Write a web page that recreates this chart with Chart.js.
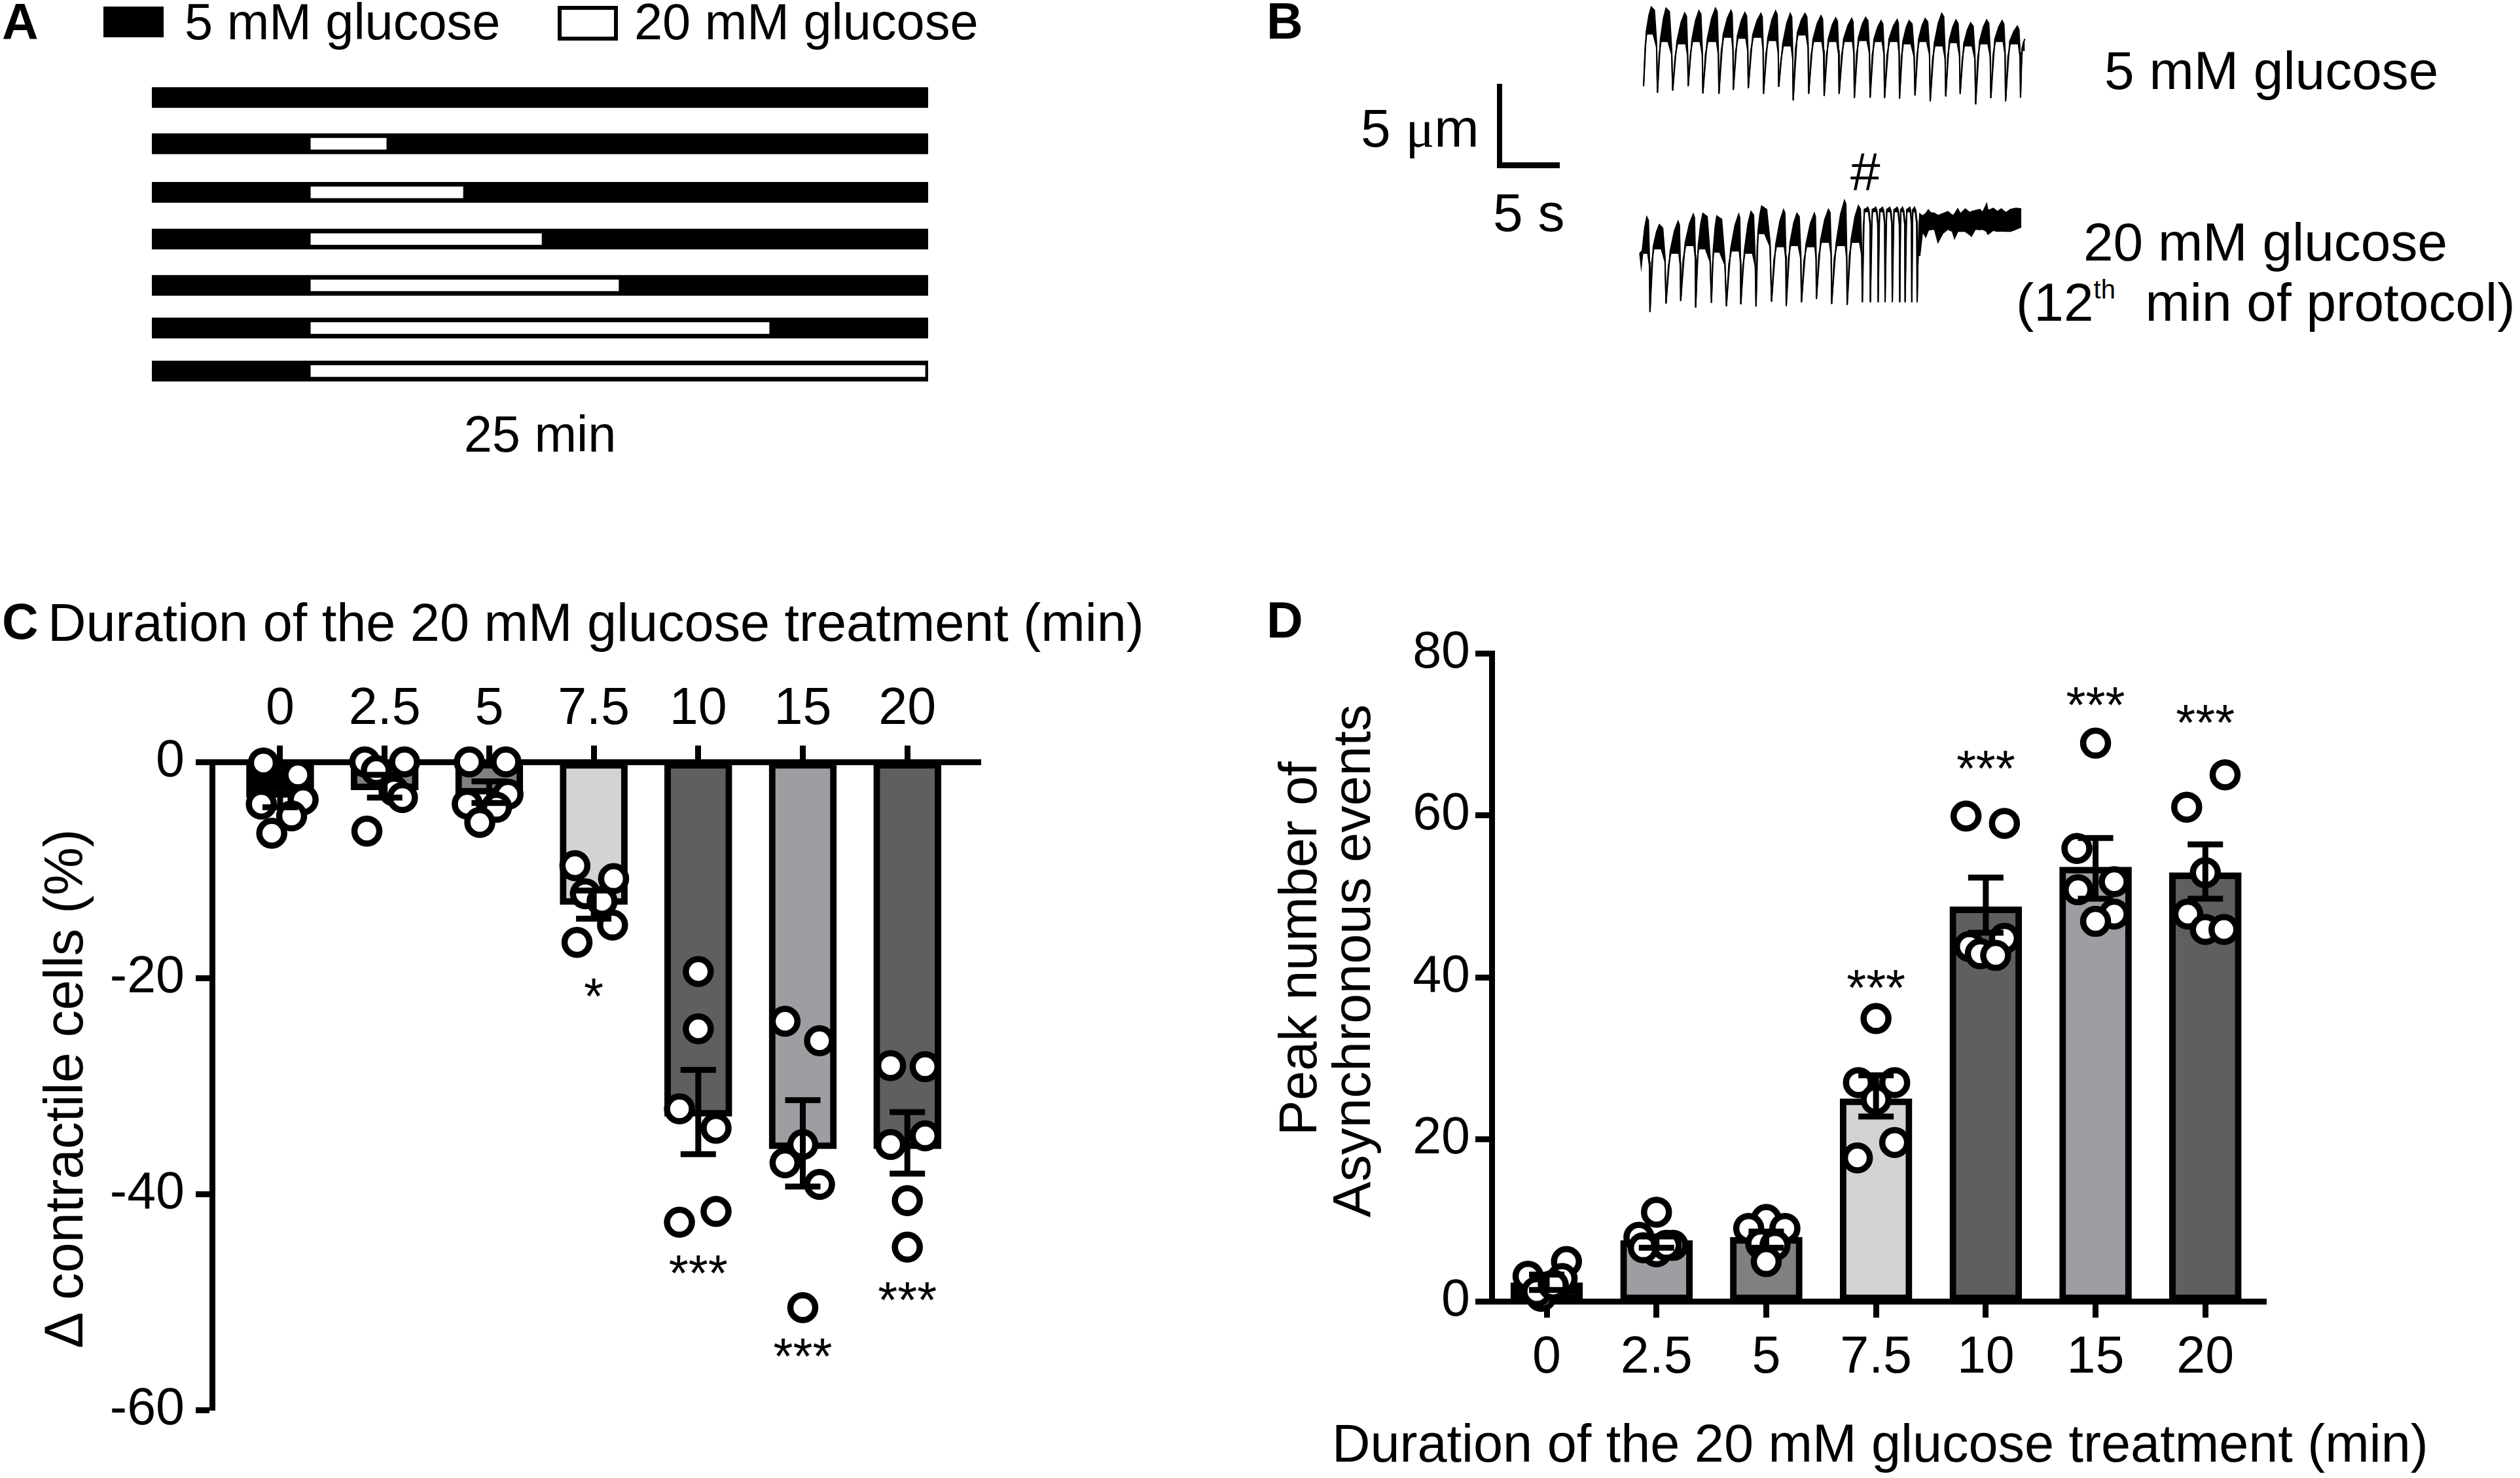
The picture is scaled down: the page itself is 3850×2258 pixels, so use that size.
<!DOCTYPE html>
<html>
<head>
<meta charset="utf-8">
<script src="https://cdn.jsdelivr.net/npm/chart.js@4"></script>
<style>
  html, body { margin: 0; background: #fff; overflow: hidden; }
  #page { position: relative; width: 3850px; height: 2258px; background: #fff; }
  canvas { position: absolute; }
  .t { position: absolute; font: 77.5px/1 "Liberation Sans", Arial, sans-serif; color: #000; white-space: pre; }
  .big { font-size: 82px; }
  .wide { font-size: 81px; }
  .letter { font-weight: bold; font-size: 77px; }
  .up { transform-origin: 0 0; transform: rotate(-90deg); font-size: 83px; }
  .t sup { font-size: 40px; line-height: 0; vertical-align: 34px; }
  .box { position: absolute; box-sizing: border-box; }
</style>
</head>
<body>
<div id="page">
  <div class="t letter" style="left:3px;top:-5px">A</div>
  <div class="box" style="left:158px;top:10px;width:92px;height:47px;background:#000"></div>
  <div class="t" style="left:282px;top:-5px">5 mM glucose</div>
  <div class="box" style="left:852px;top:9px;width:92px;height:53px;border:6px solid #000;background:#fff"></div>
  <div class="t" style="left:969px;top:-5px">20 mM glucose</div>

  <div class="t letter" style="left:1935px;top:-6px">B</div>
  <div class="t big" style="left:2079px;top:155px">5 <span style="font-family:'Liberation Serif'">μ</span>m</div>
  <div class="box" style="left:2287px;top:128px;width:96px;height:129px;border-left:8px solid #000;border-bottom:9px solid #000"></div>
  <div class="t big" style="left:2281px;top:284px">5 s</div>
  <div class="t big" style="left:2827px;top:221px">#</div>
  <div class="t big" style="left:3215px;top:67px">5 mM glucose</div>
  <div class="t big" style="left:3183px;top:329px">20 mM glucose</div>
  <div class="t big" style="left:3080px;top:421px">(12<sup>th</sup>  min of protocol)</div>

  <div class="t letter" style="left:3px;top:911px">C</div>
  <div class="t wide" style="left:73px;top:911px">Duration of the 20 mM glucose treatment (min)</div>
  <div class="t up" style="left:56px;top:2060px">Δ contractile cells (%)</div>

  <div class="t letter" style="left:1935px;top:909px">D</div>
  <div class="t up" style="left:1943px;top:1735px;font-size:81px">Peak number of</div>
  <div class="t up" style="left:2024px;top:1860px;font-size:82px">Asynchronous events</div>
  <div class="t wide" style="left:2035px;top:2165px">Duration of the 20 mM glucose treatment (min)</div>

  <canvas id="protocol_ctx" width="1186" height="615" style="left:232px;top:100px"></canvas>
  <canvas id="trace_5mm_ctx" width="640" height="170" style="left:2480px;top:0"></canvas>
  <canvas id="trace_20mm_ctx" width="640" height="200" style="left:2480px;top:290px"></canvas>
  <canvas id="contractile_ctx" width="1750" height="1319" style="left:50px;top:900px"></canvas>
  <canvas id="async_ctx" width="1870" height="1318" style="left:1930px;top:940px"></canvas>
</div>

<script>
// panel A, protocol rows (minutes)
const protocolLane = [0, 1.01, 2.07, 3.09, 4.1, 5.03, 5.97];
const protocolEnd = [null, 7.55, 10.02, 12.55, 15.03, 19.88, 24.9];
const protocolStart = 5.12;

// panel B, contraction traces (crop units, y grows downward)
const trough5X = [76, 128, 185, 243, 298, 358, 412, 468, 525, 582, 636, 694, 752, 808, 865, 924, 978, 1034, 1092, 1149, 1207, 1261, 1319, 1376, 1431, 1487];
const trough5Y = [395, 425, 415, 395, 428, 430, 412, 405, 430, 398, 460, 430, 440, 430, 450, 448, 450, 452, 438, 465, 442, 430, 478, 450, 465, 448];
const top5X = [105, 160, 230, 283, 345, 403, 455, 515, 570, 625, 680, 740, 795, 855, 907, 965, 1025, 1070, 1130, 1192, 1245, 1300, 1360, 1418, 1475, 1503];
const top5Y = [32, 38, 60, 50, 38, 48, 58, 62, 50, 62, 62, 72, 82, 85, 80, 95, 90, 95, 85, 62, 92, 105, 92, 95, 120, 178];
const low5Y = [155, 190, 200, 190, 190, 170, 175, 170, 185, 210, 160, 190, 190, 190, 185, 190, 190, 200, 190, 210, 195, 210, 200, 190, 200, 230];

const trough20X = [62, 100, 160, 215, 271, 330, 386, 440, 497, 555, 610, 667, 723, 780, 838, 895, 925, 954, 980, 1007, 1035, 1055, 1080, 1100];
const trough20Y = [290, 560, 522, 510, 540, 518, 533, 525, 535, 513, 533, 516, 500, 523, 528, 515, 515, 515, 515, 515, 515, 515, 515, 515];
const top20X = [88, 135, 205, 262, 298, 350, 432, 478, 518, 600, 650, 715, 768, 828, 880, 915, 945, 970, 997, 1025, 1045, 1072, 1090, 1110];
const top20Y = [125, 160, 145, 112, 108, 120, 112, 100, 75, 92, 108, 108, 90, 50, 73, 80, 80, 80, 80, 80, 80, 80, 80, 110];
const low20Y = [290, 270, 290, 255, 270, 285, 280, 290, 200, 260, 255, 260, 240, 255, 240, 100, 100, 100, 100, 100, 100, 100, 100, 300];
const quietX = [1120, 1132, 1142, 1150, 1165, 1178, 1195, 1215, 1232, 1240, 1252, 1262, 1280, 1297, 1303, 1318, 1335, 1345, 1360, 1365, 1385, 1400, 1415, 1432, 1450, 1470, 1490];
const quietTop = [120, 110, 92, 105, 108, 118, 110, 100, 118, 112, 88, 110, 88, 105, 100, 95, 90, 105, 65, 95, 85, 100, 88, 105, 90, 85, 88];
const quietLow = [190, 215, 185, 182, 180, 240, 200, 180, 190, 222, 190, 190, 190, 205, 212, 180, 182, 180, 190, 203, 185, 190, 188, 190, 190, 180, 170];

// panels C and D
const durations = ["0", "2.5", "5", "7.5", "10", "15", "20"];
const contractileMean = [-3.3, -2.6, -3, -13.2, -32.8, -35.8, -35.8];
const contractileHigh = [-2.4, -1.2, -1.8, -11.9, -28.5, -31.3, -32.4];
const contractileLow = [-4.2, -3.3, -3.8, -14.5, -36.3, -39.3, -38.1];
const contractileCells = [
  [-0.1, -1.2, -3.9, -3.5, -5, -6.6],
  [0, 0, -0.8, -2.7, -3.3, -6.4],
  [0, 0, -3, -3.9, -4.2, -5.6],
  [-9.6, -10.8, -12.2, -12.9, -15.1, -16.7],
  [-19.4, -24.7, -32.1, -33.9, -41.6, -42.6],
  [-24, -25.8, -35.4, -37.1, -39.1, -50.5],
  [-28.1, -28.2, -35.4, -34.6, -40.6, -44.9],
];
const contractileSpread = [
  [-0.16, 0.17, -0.18, 0.22, 0.11, -0.08],
  [-0.19, 0.19, -0.08, 0.09, 0.17, -0.17],
  [-0.19, 0.16, 0.18, -0.21, 0.07, -0.09],
  [-0.18, 0.19, -0.08, 0.08, 0.18, -0.16],
  [0, 0, -0.18, 0.17, 0.17, -0.18],
  [-0.17, 0.16, 0, -0.17, 0.16, 0],
  [-0.16, 0.17, -0.16, 0.17, 0, 0],
];
const contractileStars = ["", "", "", "*", "***", "***", "***"];
const contractileStarY = [null, null, null, -20.6, -46.2, -53.9, -48.7];
const contractileColors = ["#000000", "#808080", "#808080", "#d3d3d3", "#5f5f5f", "#9e9ea2", "#5f5f5f"];

const asyncMean = [2.3, 7.5, 7.9, 25, 48.7, 53.6, 52.9];
const asyncHigh = [3.3, 8, 8.6, 27.9, 52.3, 57.2, 56.4];
const asyncLow = [1.4, 6.6, 6.6, 22.8, 45.5, 49.7, 49.7];
const asyncEvents = [
  [3.1, 4.9, 2.8, 0.6, 1.2, 2],
  [11, 7.9, 6.9, 6.1, 6.6, 6.9],
  [10.1, 9, 9, 7.1, 6.9, 4.9],
  [34.9, 27, 27, 24.9, 17.7, 19.6],
  [59.9, 59, 44.8, 43.8, 42.9, 42.7],
  [68.9, 55.9, 51.8, 50.8, 47.8, 46.9],
  [65, 61, 52.9, 47.8, 45.9, 45.9],
];
const asyncSpread = [
  [-0.17, 0.18, 0.14, -0.05, -0.09, 0.06],
  [0, -0.16, 0.15, 0, -0.12, 0.09],
  [0, -0.16, 0.17, -0.05, 0.08, 0],
  [0, -0.16, 0.17, 0, -0.17, 0.17],
  [-0.18, 0.17, 0.17, -0.15, -0.05, 0.09],
  [0, -0.17, 0.17, -0.16, 0.17, 0],
  [0.18, -0.17, 0, -0.16, 0, 0.17],
];
const asyncStars = ["", "", "", "***", "***", "***", "***"];
const asyncStarY = [null, null, null, 40.2, 67.2, 75.1, 72.9];
const asyncColors = ["#000000", "#9e9ea2", "#808080", "#d3d3d3", "#5f5f5f", "#9e9ea2", "#5f5f5f"];

Chart.defaults.font.family = '"Liberation Sans", Arial, sans-serif';
Chart.defaults.color = "#000";
Chart.defaults.animation = false;
Chart.defaults.responsive = false;
Chart.defaults.devicePixelRatio = 1;
Chart.defaults.plugins.legend.display = false;
Chart.defaults.plugins.tooltip.enabled = false;

new Chart(document.getElementById("protocol_ctx"), {
  type: "bar",
  data: {
    datasets: [
      {
        data: protocolEnd.map((end, i) => ({ x: end === null ? null : [protocolStart, end], y: protocolLane[i] })),
        backgroundColor: "#fff",
        barThickness: 17,
        grouped: false,
        order: 1,
      },
      {
        data: protocolLane.map((lane) => ({ x: [0, 25], y: lane })),
        backgroundColor: "#000",
        barThickness: 31,
        grouped: false,
        order: 2,
      },
    ],
  },
  options: {
    indexAxis: "y",
    layout: { padding: 0 },
    scales: {
      x: {
        type: "linear",
        min: 0,
        max: 25,
        grid: { display: false },
        border: { display: false },
        ticks: { display: false },
        title: { display: true, text: "25 min", font: { size: 77.5 }, padding: 0 },
        afterFit: (s) => { s.height = 115; },
      },
      y: {
        type: "linear",
        display: false,
        reverse: true,
        offset: false,
        min: -0.7,
        max: 6.443,
      },
    },
  },
});

function buildTrace(tx, ty, px, py, low, qx, qTop, qLow) {
  let upper = [];
  let lower = [];
  tx.forEach((t, i) => {
    let next = i + 1 < tx.length ? tx[i + 1] : null;
    let rise = px[i] - t;
    upper.push({ x: t, y: ty[i] });
    lower.push({ x: t, y: ty[i] });
    upper.push({ x: t + rise * 0.35, y: low[i] - 10 });
    lower.push({ x: t + rise * 0.2, y: low[i] + 60 });
    lower.push({ x: t + rise * 0.4, y: low[i] });
    upper.push({ x: t + rise * 0.7, y: py[i] + (low[i] - py[i]) * 0.3 });
    upper.push({ x: px[i], y: py[i] });
    if (next !== null) {
      let gap = next - px[i];
      upper.push({ x: px[i] + gap * 0.5, y: py[i] + 15 });
      upper.push({ x: next - gap * 0.15, y: low[i] + 40 });
      lower.push({ x: px[i] + gap * 0.3, y: low[i] });
      lower.push({ x: next - gap * 0.15, y: low[i] + 60 });
    } else {
      lower.push({ x: px[i], y: low[i] });
    }
  });
  (qx || []).forEach((x, i) => {
    upper.push({ x: x, y: qTop[i] });
    lower.push({ x: x, y: qLow[i] });
  });
  return { upper, lower };
}

function traceChart(id, trace, yMax) {
  new Chart(document.getElementById(id), {
    type: "line",
    data: {
      datasets: [
        { data: trace.upper, borderColor: "#000", borderWidth: 2, backgroundColor: "#000", fill: "+1", pointRadius: 0 },
        { data: trace.lower, borderColor: "#000", borderWidth: 2, fill: false, pointRadius: 0 },
      ],
    },
    options: {
      layout: { padding: 0 },
      scales: {
        x: { type: "linear", display: false, min: 0, max: 1568 },
        y: { type: "linear", display: false, reverse: true, min: 0, max: yMax },
      },
    },
  });
}

traceChart("trace_5mm_ctx", buildTrace(trough5X, trough5Y, top5X, top5Y, low5Y), 510);
traceChart("trace_20mm_ctx", buildTrace(trough20X, trough20Y, top20X, top20Y, low20Y, quietX, quietTop, quietLow), 600);

// error bars and significance stars, drawn through the chart's own scales
function overlayPlugin(low, high, stars, starY) {
  return {
    id: "overlay",
    afterDatasetsDraw(chart) {
      const { ctx, scales } = chart;
      ctx.save();
      ctx.strokeStyle = "#000";
      ctx.lineWidth = 9;
      durations.forEach((_, i) => {
        let x = scales.x.getPixelForValue(i);
        let yLow = scales.y.getPixelForValue(low[i]);
        let yHigh = scales.y.getPixelForValue(high[i]);
        ctx.beginPath();
        ctx.moveTo(x, yLow);
        ctx.lineTo(x, yHigh);
        ctx.moveTo(x - 27, yLow);
        ctx.lineTo(x + 27, yLow);
        ctx.moveTo(x - 27, yHigh);
        ctx.lineTo(x + 27, yHigh);
        ctx.stroke();
      });
      ctx.fillStyle = "#000";
      ctx.font = '77px "Liberation Sans", Arial, sans-serif';
      ctx.textAlign = "center";
      ctx.textBaseline = "alphabetic";
      stars.forEach((s, i) => {
        if (s) ctx.fillText(s, scales.x.getPixelForValue(i), scales.y.getPixelForValue(starY[i]) + 45);
      });
      ctx.restore();
    },
  };
}

function summaryDatasets(mean, colors, barWidth, cells, spread) {
  return [
    {
      type: "bar",
      data: mean.map((v, i) => ({ x: i, y: v })),
      backgroundColor: colors,
      borderColor: "#000",
      borderWidth: 10,
      borderSkipped: false,
      barThickness: barWidth,
      order: 2,
    },
    {
      type: "scatter",
      data: cells.flatMap((group, i) => group.map((v, j) => ({ x: i + spread[i][j], y: v }))),
      backgroundColor: "#fff",
      borderColor: "#000",
      borderWidth: 9.5,
      pointRadius: 19,
      clip: false,
      order: 1,
    },
  ];
}

function axisStyle() {
  return {
    border: { color: "#000", width: 9 },
    grid: { drawOnChartArea: false, color: "#000", tickColor: "#000", tickLength: 25, tickWidth: 9, offset: false },
  };
}

new Chart(document.getElementById("contractile_ctx"), {
  type: "bar",
  data: { datasets: summaryDatasets(contractileMean, contractileColors, 103, contractileCells, contractileSpread) },
  plugins: [overlayPlugin(contractileLow, contractileHigh, contractileStars, contractileStarY)],
  options: {
    layout: { padding: { bottom: 50, right: 302 } },
    scales: {
      x: {
        ...axisStyle(),
        type: "linear",
        position: "top",
        offset: false,
        min: -0.651,
        max: 6.7,
        afterBuildTicks: (s) => { s.ticks = durations.map((_, i) => ({ value: i })); },
        afterFit: (s) => { s.height = 264; },
        ticks: { font: { size: 79 }, padding: 7, autoSkip: false, maxRotation: 0, callback: (v) => durations[v] },
      },
      y: {
        ...axisStyle(),
        min: -60,
        max: 0,
        afterFit: (s) => { s.width = 274; },
        ticks: { stepSize: 20, font: { size: 79 }, padding: 17 },
      },
    },
  },
});

new Chart(document.getElementById("async_ctx"), {
  type: "bar",
  data: { datasets: summaryDatasets(asyncMean, asyncColors, 110, asyncEvents, asyncSpread) },
  plugins: [overlayPlugin(asyncLow, asyncHigh, asyncStars, asyncStarY)],
  options: {
    layout: { padding: { top: 58, right: 338 } },
    scales: {
      x: {
        ...axisStyle(),
        type: "linear",
        offset: false,
        min: -0.501,
        max: 6.553,
        afterBuildTicks: (s) => { s.ticks = durations.map((_, i) => ({ value: i })); },
        afterFit: (s) => { s.height = 270; },
        ticks: { font: { size: 79 }, padding: 15, autoSkip: false, maxRotation: 0, callback: (v) => durations[v] },
      },
      y: {
        ...axisStyle(),
        min: 0,
        max: 80,
        afterFit: (s) => { s.width = 349; },
        ticks: { stepSize: 20, font: { size: 79 }, padding: 8 },
      },
    },
  },
});
</script>
</body>
</html>
